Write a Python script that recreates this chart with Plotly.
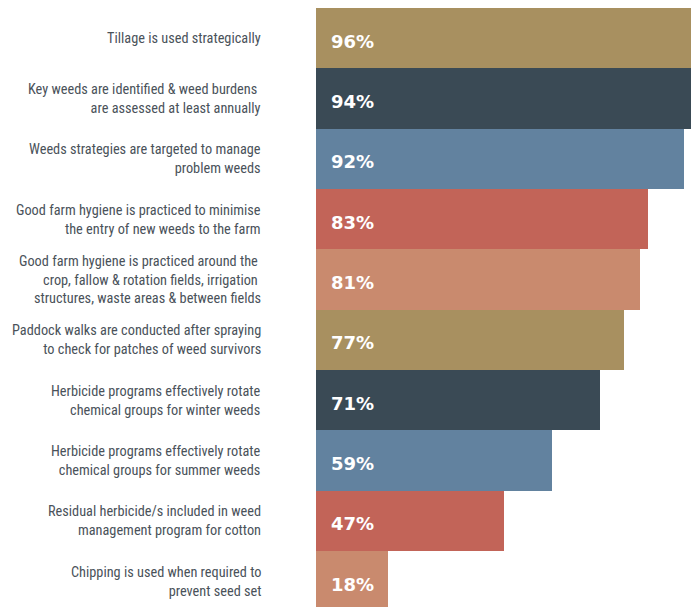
import plotly.graph_objects as go

categories = [
    "Tillage is used strategically",
    "Key weeds are identified & weed burdens <br>are assessed at least annually",
    "Weeds strategies are targeted to manage<br>problem weeds",
    "Good farm hygiene is practiced to minimise<br>the entry of new weeds to the farm",
    "Good farm hygiene is practiced around the <br>crop, fallow & rotation fields, irrigation <br>structures, waste areas & between fields",
    "Paddock walks are conducted after spraying<br>to check for patches of weed survivors",
    "Herbicide programs effectively rotate<br>chemical groups for winter weeds",
    "Herbicide programs effectively rotate<br>chemical groups for summer weeds",
    "Residual herbicide/s included in weed<br>management program for cotton",
    "Chipping is used when required to<br>prevent seed set",
]
values = [96, 94, 92, 83, 81, 77, 71, 59, 47, 18]
value_labels = ["96%", "94%", "92%", "83%", "81%", "77%", "71%", "59%", "47%", "18%"]
colors = ["#A89060", "#3A4A55", "#62829F", "#C26458", "#C98A6E",
          "#A89060", "#3A4A55", "#62829F", "#C26458", "#C98A6E"]

positions = list(range(len(values)))

fig = go.Figure()
fig.add_trace(go.Bar(
    x=values, y=positions, orientation="h", width=1,
    marker=dict(color=colors, line=dict(width=0)),
    hoverinfo="skip",
))

W, H = 691, 607
left = 316
top = 8
annotations = []
label_x = (263 - left) / (W - left)
for i, (cat, lab) in enumerate(zip(categories, value_labels)):
    annotations.append(dict(
        x=label_x, xref="paper", y=i, yref="y", text=cat, showarrow=False,
        xanchor="right", yanchor="middle", align="right",
        font=dict(family="Roboto Condensed, Liberation Sans Narrow, sans-serif",
                  size=14.3, color="#4A525A"),
    ))
    annotations.append(dict(
        x=3.3, xref="x", y=i + 0.05, yref="y", text="<b>%s</b>" % lab, showarrow=False,
        xanchor="left", yanchor="middle",
        font=dict(family="DejaVu Sans, Verdana, sans-serif", size=18, color="#FFFFFF"),
    ))

fig.update_layout(
    width=W, height=H,
    margin=dict(l=left, r=0, t=top, b=0),
    paper_bgcolor="white", plot_bgcolor="white",
    showlegend=False, bargap=0,
    xaxis=dict(range=[0, 93.75], visible=False, fixedrange=True),
    yaxis=dict(range=[9.428, -0.5], visible=False, fixedrange=True),
    annotations=annotations,
)

fig.write_html(
    "out.html",
    config={"displayModeBar": False, "staticPlot": True},
    post_script="document.body.style.margin='0';document.body.style.overflow='hidden';",
)
